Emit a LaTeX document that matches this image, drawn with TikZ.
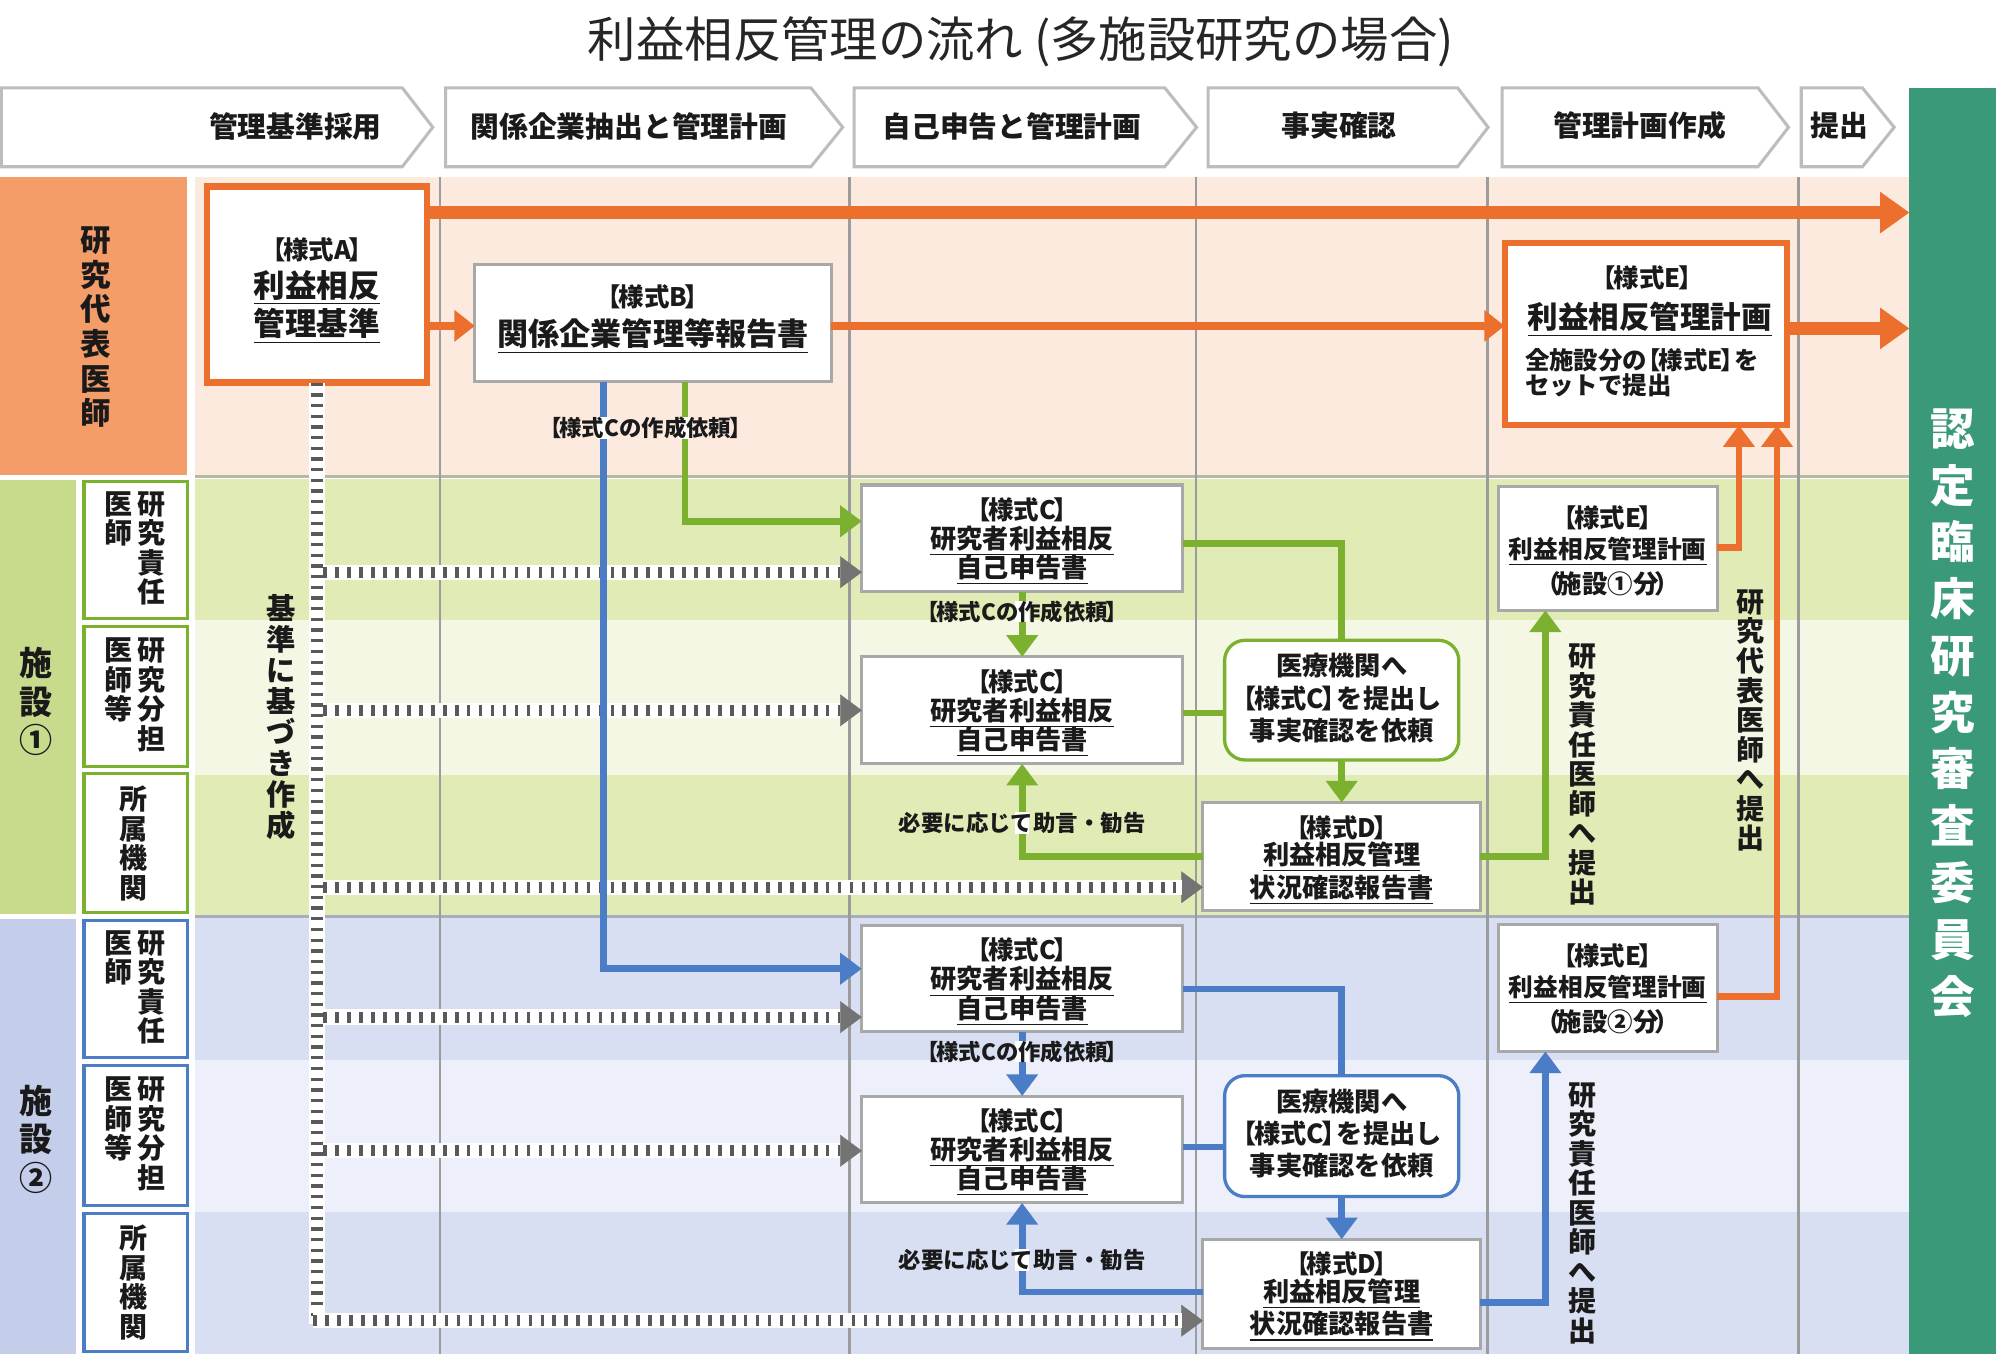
\documentclass[tikz,border=0pt]{standalone}
\usepackage{fontspec}
\setmainfont{Noto Sans CJK JP}
\usetikzlibrary{arrows.meta,fit,calc}
\definecolor{ORG}{HTML}{EC6F2D}
\definecolor{ORGL}{HTML}{F49D69}
\definecolor{PEACH}{HTML}{FDEADF}
\definecolor{GRNL}{HTML}{C8DB8D}
\definecolor{GRN1}{HTML}{E1EBB6}
\definecolor{GRN2}{HTML}{F3F7E3}
\definecolor{GRNB}{HTML}{7BB12E}
\definecolor{BLUL}{HTML}{C4CEEA}
\definecolor{BLU1}{HTML}{D9DFF2}
\definecolor{BLU2}{HTML}{EDF0FA}
\definecolor{BLUB}{HTML}{4B7DC6}
\definecolor{TEAL}{HTML}{3A9979}
\definecolor{COLL}{HTML}{9C9C9C}
\definecolor{SEPG}{HTML}{B4B8A4}
\definecolor{SEPB}{HTML}{A8AEBC}
\definecolor{BOXG}{HTML}{A8A8A8}
\definecolor{CHEV}{HTML}{BDBDBD}
\definecolor{LADC}{HTML}{595959}
\definecolor{TIPG}{HTML}{737373}
\definecolor{TXT}{HTML}{1A1A1A}
\newcommand\fs[2]{\fontsize{#1}{#2}\selectfont}
\newcommand\lb{\kern-.42em【\kern-.1em}
\newcommand\rb{\kern-.1em】\kern-.42em}
\tikzset{
  every node/.style={inner sep=0pt, outer sep=0pt, text=TXT},
  obox/.style={draw=ORG, line width=2.4pt, fill=white},
  gbox/.style={draw=BOXG, line width=1.2pt, fill=white},
  rbox/.style={draw=#1, line width=1.3pt, fill=white, rounded corners=8pt},
  lbox/.style={draw=#1, line width=1.2pt, fill=white},
  chev/.style={draw=CHEV, line width=1.2pt, fill=white},
  hdr/.style={font=\bfseries\fs{11.3}{13}},
  fk/.style={font=\bfseries\fs{10}{12}},
  big/.style={font=\bfseries\fs{12.2}{14}},
  mid/.style={font=\bfseries\fs{10.3}{12}},
  sml/.style={font=\bfseries\fs{9.6}{11}},
  emid/.style={font=\bfseries\fs{9.7}{11}},
  lab/.style={font=\bfseries\fs{8.8}{10}},
  vt/.style={align=center, font=\bfseries\fs{11}{11.6}},
  colline/.style={draw=COLL, line width=1pt},
  otop/.style={draw=ORG, line width=5pt, -{Triangle[length=11.5pt,width=15.5pt]}},
  omid/.style={draw=ORG, line width=3pt, -{Triangle[length=8pt,width=12pt]}},
  oup/.style={draw=ORG, line width=2.6pt, -{Triangle[length=8.5pt,width=12pt]}},
  garr/.style={draw=GRNB, line width=2.6pt, -{Triangle[length=8.5pt,width=12pt]}},
  gline/.style={draw=GRNB, line width=2.6pt},
  barr/.style={draw=BLUB, line width=2.6pt, -{Triangle[length=8.5pt,width=12pt]}},
  bline/.style={draw=BLUB, line width=2.6pt},
}
\newcommand\ladH[2]{%
  \draw[TIPG, line width=0.1pt, -{Triangle[length=8.5pt,width=12.5pt]}] #1 -- #2;
  \draw[white, line width=6pt, shorten >=8.4pt] #1 -- #2;
  \draw[LADC, line width=4.4pt, dash pattern=on 1.4pt off 3.3pt, shorten >=8.4pt] #1 -- #2;
}
% white break of a vertical connector under a label
\newcommand\gap[2]{\fill[white] (#1-5.5,#2-8.5) rectangle (#1+5.5,#2+8.5);}
\newcommand\formC[3]{%
  \node[gbox, fit={(677,#2) (929,#3)}] (#1) {};
  \node[fk] (#1-a) at ($(#1.north)+(0,19.5)$) {\lb 様式C\rb};
  \node[mid] (#1-b) at ($(#1.north)+(0,44)$) {\underline{研究者利益相反}};
  \node[mid] (#1-c) at ($(#1.north)+(0,67)$) {\underline{自己申告書}};
}
\newcommand\formD[3]{%
  \node[gbox, fit={(945,#2) (1163,#3)}] (#1) {};
  \node[fk] (#1-a) at ($(#1.north)+(0,19.5)$) {\lb 様式D\rb};
  \node[mid] (#1-b) at ($(#1.north)+(0,43)$) {\underline{利益相反管理}};
  \node[mid] (#1-c) at ($(#1.north)+(0,68.5)$) {\underline{状況確認報告書}};
}
\newcommand\formR[4]{%
  \node[rbox=#4, fit={(962,#2) (1146,#3)}] (#1) {};
  \node[mid] (#1-a) at ($(#1.north)+(0,20)$) {医療機関へ};
  \node[mid] (#1-b) at ($(#1.north)+(0,45.5)$) {\lb 様式C\rb を提出し};
  \node[mid] (#1-c) at ($(#1.north)+(0,71)$) {事実確認を依頼};
}
\newcommand\formE[4]{%
  \node[gbox, fit={(1177,#2) (1349,#3)}] (#1) {};
  \node[fk] (#1-a) at ($(#1.north)+(0,24.5)$) {\lb 様式E\rb};
  \node[emid] (#1-b) at ($(#1.north)+(0,51)$) {\underline{利益相反管理計画}};
  \node[fk] (#1-c) at ($(#1.north)+(0,76)$) {（\kern-.15em 施設#4分\kern-.15em）};
}
\begin{document}
\begin{tikzpicture}[x=0.5pt,y=-0.5pt]
\useasboundingbox (0,0) rectangle (1568,1064);
\fill[white] (0,0) rectangle (1568,1064);

% title
\node[font=\fs{19}{21}, text=black!85] (title) at (802,33) {利益相反管理の流れ (多施設研究の場合)};

% header chevrons
\draw[chev] (1,69) -- (316,69) -- (340,100) -- (316,131) -- (1,131) -- cycle;
\draw[chev] (350,69) -- (637,69) -- (662,100) -- (637,131) -- (350,131) -- cycle;
\draw[chev] (671,69) -- (915,69) -- (940,100) -- (915,131) -- (671,131) -- cycle;
\draw[chev] (949,69) -- (1145,69) -- (1169,100) -- (1145,131) -- (949,131) -- cycle;
\draw[chev] (1180,69) -- (1381,69) -- (1405,100) -- (1381,131) -- (1180,131) -- cycle;
\draw[chev] (1415,69) -- (1463,69) -- (1488,100) -- (1463,131) -- (1415,131) -- cycle;
\node[hdr] (h1) at (232,99) {管理基準採用};
\node[hdr] (h2) at (494,99) {関係企業抽出と管理計画};
\node[hdr] (h3) at (795,99) {自己申告と管理計画};
\node[hdr] (h4) at (1052,99) {事実確認};
\node[hdr] (h5) at (1288,99) {管理計画作成};
\node[hdr] (h6) at (1445,99) {提出};

% backgrounds
\fill[PEACH] (153,139) rectangle (1500,373);
\fill[ORGL] (0,139) rectangle (147,373);
\fill[GRN1] (153,376) rectangle (1500,487);
\fill[GRN2] (153,487) rectangle (1500,609);
\fill[GRN1] (153,609) rectangle (1500,719);
\fill[GRNL] (0,377) rectangle (60,718);
\fill[BLU1] (153,721) rectangle (1500,833);
\fill[BLU2] (153,833) rectangle (1500,952);
\fill[BLU1] (153,952) rectangle (1500,1064);
\fill[BLUL] (0,722) rectangle (60,1064);
\draw[SEPG, line width=1.2pt] (153,374.5) -- (1500,374.5);
\draw[SEPB, line width=1.2pt] (153,720) -- (1500,720);
\foreach \cx in {345.5,667.4,939.5,1168.5,1413} \draw[colline] (\cx,139) -- (\cx,1064);

% committee
\node[fill=TEAL, fit={(1500,69) (1568,1064)}] (CM) {};
\node[vt, font=\bfseries\fs{17.5}{22.3}, text=white] (CMt) at (1534,560) {認\\定\\臨\\床\\研\\究\\審\\査\\委\\員\\会};

% row labels
\node[vt, font=\bfseries\fs{12}{13.6}] (lR) at (75,257) {研\\究\\代\\表\\医\\師};
\node[vt, font=\bfseries\fs{13}{15}] (lF1) at (28,551) {施\\設\\①};
\node[vt, font=\bfseries\fs{13}{15}] (lF2) at (28,895) {施\\設\\②};
\node[lbox=GRNB, fit={(66,378) (147,486)}] (s1a) {};
\node[lbox=GRNB, fit={(66,492) (147,602)}] (s1b) {};
\node[lbox=GRNB, fit={(66,608) (147,717)}] (s1c) {};
\node[lbox=BLUB, fit={(66,723) (147,831)}] (s2a) {};
\node[lbox=BLUB, fit={(66,837) (147,947)}] (s2b) {};
\node[lbox=BLUB, fit={(66,953) (147,1062)}] (s2c) {};
\node[vt,anchor=north] (s1a-r) at (119,386) {研\\究\\責\\任};
\node[vt,anchor=north] (s1a-l) at (93,386) {医\\師};
\node[vt,anchor=north] (s1b-r) at (119,501) {研\\究\\分\\担};
\node[vt,anchor=north] (s1b-l) at (93,501) {医\\師\\等};
\node[vt] (s1c-t) at (105,662.5) {所\\属\\機\\関};
\node[vt,anchor=north] (s2a-r) at (119,731) {研\\究\\責\\任};
\node[vt,anchor=north] (s2a-l) at (93,731) {医\\師};
\node[vt,anchor=north] (s2b-r) at (119,846) {研\\究\\分\\担};
\node[vt,anchor=north] (s2b-l) at (93,846) {医\\師\\等};
\node[vt] (s2c-t) at (105,1007.5) {所\\属\\機\\関};

% boxes
\node[obox, fit={(162.5,146.5) (335.5,300.5)}] (A) {};
\node[gbox, fit={(373,208) (653,300)}] (B) {};
\node[obox, fit={(1182,191) (1404,334)}] (E) {};
\formC{C1a}{381}{465}
\formC{C1b}{516}{600}
\formC{C2a}{727}{810.5}
\formC{C2b}{861}{945}
\formR{R1}{503}{597}{GRNB}
\formR{R2}{845}{940}{BLUB}
\formD{D1}{630.5}{715}
\formD{D2}{973.5}{1059}
\formE{E1}{382.5}{479.5}{①}
\formE{E2}{726.5}{826}{②}

% texts of A, B, E
\node[fk] (A-a) at (249,196) {\lb 様式A\rb};
\node[font=\bfseries\fs{12.4}{14}] (A-b) at (249,226) {\underline{利益相反}};
\node[font=\bfseries\fs{12.4}{14}] (A-c) at (249,256) {\underline{管理基準}};
\node[fk] (B-a) at (513,233) {\lb 様式B\rb};
\node[big] (B-b) at (513,264) {\underline{関係企業管理等報告書}};
\node[fk] (E-a) at (1294,218.5) {\lb 様式E\rb};
\node[font=\bfseries\fs{12}{14}] (E-b) at (1296,251) {\underline{利益相反管理計画}};
\node[sml,anchor=west] (E-c) at (1198,283) {全施設分の\lb 様式E\rb を};
\node[sml,anchor=west] (E-d) at (1198,302.5) {セットで提出};

% ladders (standard-based creation)
\draw[white, line width=6pt] (A.south -| 249,0) -- (249,1040);
\draw[LADC, line width=4.4pt, dash pattern=on 1.3pt off 2.9pt] (A.south -| 249,0) -- (249,1037);
\ladH{(254,449.5)}{(C1a.west |- 0,449.5)}
\ladH{(254,558)}{(C1b.west |- 0,558)}
\ladH{(254,697)}{(D1.west |- 0,697)}
\ladH{(254,799)}{(C2a.west |- 0,799)}
\ladH{(254,904)}{(C2b.west |- 0,904)}
\ladH{(246,1037.5)}{(D2.west |- 0,1037.5)}
\node[vt, font=\bfseries\fs{11.5}{12.2}] (kijun) at (221,563.5) {基\\準\\に\\基\\づ\\き\\作\\成};

% orange connectors
\draw[otop] (A.east |- 0,167) -- (CM.west |- 0,167);
\draw[omid] (A.east |- 0,256) -- (B.west |- 0,256);
\draw[omid] (B.east |- 0,256) -- (E.west |- 0,256);
\draw[otop] (E.east |- 0,258) -- (CM.west |- 0,258);
\draw[oup] (E1.east |- 0,430) -| (1366,0 |- E.south);
\draw[oup] (E2.east |- 0,783) -| (1396,0 |- E.south);

% green connectors
\draw[garr] (B.south -| 538,0) |- (C1a.west |- 0,409.5);
\draw[garr] (C1a.south) -- (C1b.north);
\draw[gline] (C1a.east |- 0,427) -| (R1.north);
\draw[gline] (C1b.east |- 0,560) -- (R1.west |- 0,560);
\draw[garr] (R1.south) -- (D1.north);
\draw[garr] (D1.west |- 0,673) -| (C1b.south);
\draw[garr] (D1.east |- 0,673) -| (1214,0 |- E1.south);

% blue connectors
\draw[barr] (B.south -| 474,0) |- (C2a.west |- 0,761);
\draw[barr] (C2a.south) -- (C2b.north);
\draw[bline] (C2a.east |- 0,777) -| (R2.north);
\draw[bline] (C2b.east |- 0,901) -- (R2.west |- 0,901);
\draw[barr] (R2.south) -- (D2.north);
\draw[barr] (D2.west |- 0,1015) -| (C2b.south);
\draw[barr] (D2.east |- 0,1023) -| (1214,0 |- E2.south);

% vertical submission labels
\node[vt] (sub1) at (1243,608.5) {研\\究\\責\\任\\医\\師\\へ\\提\\出};
\node[vt] (sub2) at (1243,953) {研\\究\\責\\任\\医\\師\\へ\\提\\出};
\node[vt] (sub3) at (1375,566) {研\\究\\代\\表\\医\\師\\へ\\提\\出};

% labels over connectors (white break under the text)
\gap{474}{336}\gap{538}{336}
\gap{802.75}{480.5}\gap{802.75}{826}
\gap{802.75}{646.5}\gap{802.75}{990}
\node[lab] (lbB) at (507,336) {\lb 様式Cの作成依頼\rb};
\node[lab] (lbC1) at (803,480.5) {\lb 様式Cの作成依頼\rb};
\node[lab] (lbC2) at (803,826) {\lb 様式Cの作成依頼\rb};
\node[lab] (adv1) at (803,646.5) {必要に応じて助言・勧告};
\node[lab] (adv2) at (803,990) {必要に応じて助言・勧告};
\end{tikzpicture}
\end{document}
